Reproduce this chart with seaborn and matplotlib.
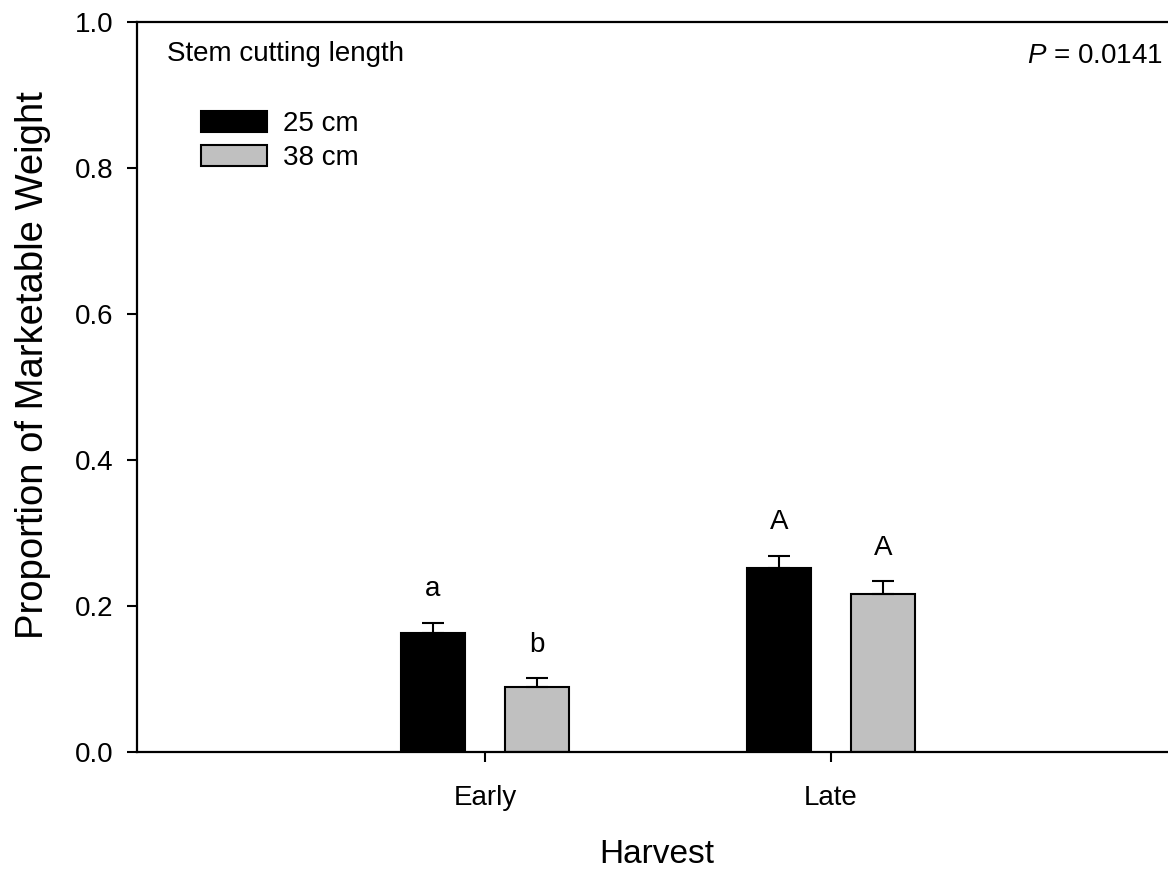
import matplotlib
matplotlib.use("Agg")
import matplotlib.pyplot as plt
import seaborn as sns
import pandas as pd
from matplotlib.patches import Patch

# ---- data ----
harvest = ["Early", "Late"]
lengths = ["25 cm", "38 cm"]
mean_25 = [0.163, 0.252]
mean_38 = [0.089, 0.216]
se_25 = [0.014, 0.017]
se_38 = [0.012, 0.018]
letters_25 = ["a", "A"]
letters_38 = ["b", "A"]
bar_colors = ["#000000", "#c0c0c0"]

df = pd.DataFrame({
    "Harvest": harvest * 2,
    "Length": [lengths[0]] * 2 + [lengths[1]] * 2,
    "Value": mean_25 + mean_38,
    "SE": se_25 + se_38,
    "Letter": letters_25 + letters_38,
})

sns.set_theme(style="ticks")
plt.rcParams["font.family"] = ["Liberation Sans", "DejaVu Sans"]
plt.rcParams["text.color"] = "black"
plt.rcParams["axes.labelcolor"] = "black"
plt.rcParams["mathtext.fontset"] = "custom"
plt.rcParams["mathtext.it"] = "Liberation Sans:italic"
plt.rcParams["mathtext.rm"] = "Liberation Sans"

fig = plt.figure(figsize=(11.68, 8.69), dpi=100)
ax = fig.add_axes([137 / 1168, 117 / 869, (1177 - 137) / 1168, 730 / 869])

sns.barplot(data=df, x="Harvest", y="Value", hue="Length", order=harvest,
            hue_order=lengths, palette=bar_colors, width=0.604, gap=0.387,
            errorbar=None, edgecolor="black", linewidth=1.5, legend=False,
            saturation=1, ax=ax)

# error bars and letters
for (i, length) in enumerate(lengths):
    sub = df[df["Length"] == length].set_index("Harvest").loc[harvest]
    cont = ax.containers[i]
    xs = [p.get_x() + p.get_width() / 2 for p in cont.patches]
    ys = sub["Value"].to_numpy()
    es = sub["SE"].to_numpy()
    ax.errorbar(xs, ys, yerr=[[0] * len(es), es], fmt="none", ecolor="black",
                elinewidth=1.5, capsize=8, capthick=1.5, zorder=1)
    for x, y, e, lt in zip(xs, ys, es, sub["Letter"]):
        ax.annotate(lt, (x, y + e), xytext=(0, 19), textcoords="offset points",
                    ha="center", va="baseline", fontsize=20)

ax.set_xlim(-1.006, 2.0)
ax.set_ylim(0, 1.0)
ax.set_yticks([0, 0.2, 0.4, 0.6, 0.8, 1.0])
ax.set_yticklabels(["0.0", "0.2", "0.4", "0.6", "0.8", "1.0"])

for side in ["left", "bottom", "top"]:
    ax.spines[side].set_linewidth(1.6)
    ax.spines[side].set_color("black")
ax.spines["right"].set_visible(False)
ax.tick_params(axis="both", direction="out", length=7.2, width=1.5, colors="black",
               labelsize=20, pad=10)
ax.tick_params(axis="x", pad=16.5)
ax.tick_params(top=False, right=False)

ax.set_xlabel("Harvest", fontsize=24, labelpad=20.5)
ax.set_ylabel("Proportion of Marketable Weight", fontsize=27.5, labelpad=17)
ax.yaxis.label.set_y(0.530)

fig.text(167 / 1168, 1 - 54 / 869, "Stem cutting length", fontsize=20,
         va="center", ha="left")
fig.text(1163 / 1168, 1 - 56 / 869, "$\\mathit{P}$ = 0.0141", fontsize=20,
         va="center", ha="right")

handles = [Patch(facecolor=c, edgecolor="black", linewidth=1.5) for c in bar_colors]
leg = ax.legend(handles, lengths, loc="upper left",
                bbox_to_anchor=(201 / 1168, 1 - 111 / 869),
                bbox_transform=fig.transFigure, frameon=False, fontsize=20,
                handlelength=2.37, handleheight=0.79, labelspacing=0.27,
                handletextpad=0.58, borderpad=0, borderaxespad=0)

fig.savefig("out.png", dpi=100)
